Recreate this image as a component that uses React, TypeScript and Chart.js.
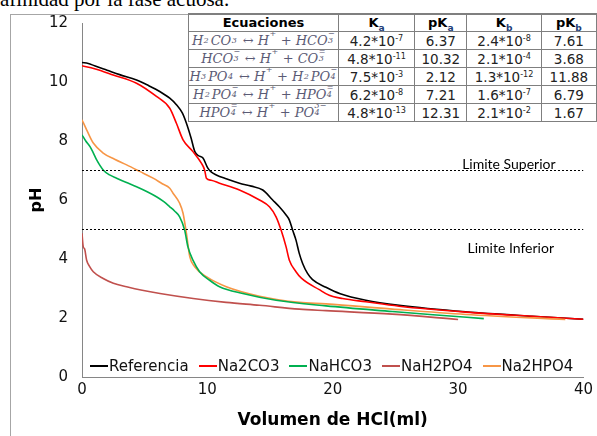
import React, { useEffect, useRef } from "react";
import { Chart, registerables } from "chart.js";
Chart.register(...registerables);

// ---------- DATA ----------
const headerText = "afinidad por la fase acuosa.";
const xTitle = "Volumen de HCl(ml)";
const yTitle = "pH";
const xMin = 0, xMax = 40, xStep = 10;
const yMin = 0, yMax = 12, yStep = 2;

const seriesNames = ["Referencia", "Na2CO3", "NaHCO3", "NaH2PO4", "Na2HPO4"];
const seriesColors = ["#000000", "#FF0000", "#00B050", "#C0504D", "#F79646"];

const volReferencia = [0, 0.5, 1, 2, 3, 4.35, 5.3, 6.2, 7.0, 7.53, 8.0, 8.33, 8.7, 9.0, 9.3, 9.65, 10.04, 10.3, 10.71, 11.5, 12.56, 13.5, 14.42, 15.21, 15.74, 16.28, 16.54, 16.8, 17.07, 17.33, 17.6, 17.99, 18.39, 19.46, 20.6, 22.64, 25.29, 30.6, 35.9, 40];
const phReferencia = [10.66, 10.63, 10.55, 10.4, 10.25, 10.07, 9.88, 9.68, 9.45, 9.23, 8.95, 8.6, 8.1, 7.64, 7.5, 7.42, 7.08, 6.95, 6.85, 6.72, 6.57, 6.47, 6.34, 6.0, 5.77, 5.49, 5.32, 4.98, 4.64, 4.19, 3.85, 3.51, 3.3, 3.04, 2.82, 2.6, 2.43, 2.21, 2.06, 1.96];

const volNa2CO3 = [0, 1, 2.49, 4.35, 5.94, 7.0, 7.53, 8.06, 8.85, 9.52, 9.78, 9.92, 10.3, 10.97, 12.56, 14.16, 14.95, 15.48, 15.88, 16.28, 16.54, 17.07, 17.5, 18.93, 19.72, 20.78, 22.64, 25.29, 30.6, 35.9, 40];
const phNa2CO3 = [10.55, 10.45, 10.24, 9.96, 9.51, 9.11, 8.6, 8.04, 7.64, 7.25, 7.02, 6.74, 6.67, 6.57, 6.34, 6.0, 5.77, 5.43, 4.98, 4.41, 3.96, 3.57, 3.35, 2.96, 2.77, 2.66, 2.55, 2.4, 2.2, 2.06, 1.96];

const volNaHCO3 = [0, 0.3, 0.64, 0.9, 1.17, 1.69, 2.2, 2.76, 3.5, 4.35, 5.2, 5.94, 6.5, 7.0, 7.4, 7.79, 8.19, 8.45, 8.85, 9.38, 10.18, 10.97, 12.83, 15.48, 19.46, 24.75, 28, 32.05];
const phNaHCO3 = [8.21, 8.0, 7.81, 7.6, 7.36, 7.02, 6.85, 6.74, 6.6, 6.45, 6.28, 6.11, 5.95, 5.77, 5.62, 5.43, 4.98, 4.41, 3.96, 3.57, 3.28, 3.06, 2.83, 2.6, 2.41, 2.22, 2.11, 1.98];

const volNaH2PO4 = [0, 0.1, 0.2, 0.37, 0.6, 0.9, 1.69, 2.5, 3.56, 4.8, 6.22, 8.87, 11.5, 14.16, 17.34, 19.46, 24.75, 30.0];
const phNaH2PO4 = [4.87, 4.41, 4.35, 3.96, 3.75, 3.57, 3.34, 3.18, 3.06, 2.94, 2.83, 2.66, 2.53, 2.43, 2.3, 2.25, 2.13, 1.95];

const volNa2HPO4 = [0, 0.37, 0.9, 1.69, 2.6, 3.56, 4.6, 5.67, 6.4, 7.0, 7.26, 7.79, 8.06, 8.33, 8.6, 8.99, 9.92, 11.51, 14.16, 17.34, 19.46, 24.75, 30.6, 38.55];
const phNa2HPO4 = [8.72, 8.38, 7.93, 7.59, 7.38, 7.19, 6.97, 6.74, 6.55, 6.4, 6.23, 5.89, 5.55, 4.87, 4.07, 3.74, 3.4, 3.06, 2.74, 2.53, 2.48, 2.3, 2.12, 1.95];

const limitValues = [7, 5];
const limitLabels = ["Limite Superior", "Limite Inferior"];

// table
const tableHeaders = ["Ecuaciones", "K|a", "pK|a", "K|b", "pK|b"];
const equations = [
  "H_{2}CO_{3} ↔ H^{+} + HCO_{3}^{−}",
  "HCO_{3}^{−} ↔ H^{+} + CO_{3}^{=}",
  "H_{3}PO_{4} ↔ H^{+} + H_{2}PO_{4}^{−}",
  "H_{2}PO_{4}^{−} ↔ H^{+} + HPO_{4}^{=}",
  "HPO_{4}^{=} ↔ H^{+} + PO_{4}^{3−}",
];
const kaMant = ["4.2", "4.8", "7.5", "6.2", "4.8"];
const kaExp = ["-7", "-11", "-3", "-8", "-13"];
const pKa = ["6.37", "10.32", "2.12", "7.21", "12.31"];
const kbMant = ["2.4", "2.1", "1.3", "1.6", "2.1"];
const kbExp = ["-8", "-4", "-12", "-7", "-2"];
const pKb = ["7.61", "3.68", "11.88", "6.79", "1.67"];

// ---------- HELPERS ----------
function zip(xs: number[], ys: number[]) {
  return xs.map((x, i) => ({ x, y: ys[i] }));
}

function Stack({ sub, sup }: { sub?: string; sup?: string }) {
  const len = Math.max(sub ? sub.length : 0, sup ? sup.length : 0);
  return (
    <span style={{ position: "relative", display: "inline-block", width: `${len * 0.45 + 0.12}em`, height: "1em", verticalAlign: "baseline" }}>
      {sup ? (
        <span style={{ position: "absolute", left: "0.05em", top: "-0.3em", fontSize: "0.62em", lineHeight: 1 }}>{sup}</span>
      ) : null}
      {sub ? (
        <span style={{ position: "absolute", left: "0.05em", top: "0.6em", fontSize: "0.62em", lineHeight: 1 }}>{sub}</span>
      ) : null}
    </span>
  );
}

function Equation({ text }: { text: string }) {
  const parts: React.ReactNode[] = [];
  const re = /_\{([^}]*)\}(?:\^\{([^}]*)\})?|\^\{([^}]*)\}|([^_^]+)/g;
  let m: RegExpExecArray | null;
  let k = 0;
  while ((m = re.exec(text)) !== null) {
    if (m[4] !== undefined) parts.push(<span key={k++}>{m[4]}</span>);
    else if (m[1] !== undefined) parts.push(<Stack key={k++} sub={m[1]} sup={m[2]} />);
    else parts.push(<Stack key={k++} sup={m[3]} />);
  }
  return <span style={{ whiteSpace: "pre" }}>{parts}</span>;
}

function Header({ text }: { text: string }) {
  const [main, sub] = text.split("|");
  return (
    <span>
      {main}
      {sub ? <sub style={{ fontSize: "0.7em", color: "#1f3f7a", lineHeight: 0 }}>{sub}</sub> : null}
    </span>
  );
}

const limitLabelPlugin = {
  id: "limitLabels",
  afterDatasetsDraw(chart: any) {
    const { ctx, scales } = chart;
    const x = scales.x, y = scales.y;
    ctx.save();
    ctx.font = "14px Lato";
    ctx.fillStyle = "#000";
    ctx.textAlign = "center";
    ctx.textBaseline = "middle";
    ctx.fillText(limitLabels[0], x.getPixelForValue(34.05), y.getPixelForValue(limitValues[0]) - 6.5);
    ctx.fillText(limitLabels[1], x.getPixelForValue(34.2), y.getPixelForValue(limitValues[1]) + 18.7);
    ctx.restore();
  },
};

export default function App() {
  const canvasRef = useRef<HTMLCanvasElement | null>(null);

  useEffect(() => {
    const canvas = canvasRef.current;
    if (!canvas) return;
    const seriesData = [
      zip(volReferencia, phReferencia),
      zip(volNa2CO3, phNa2CO3),
      zip(volNaHCO3, phNaHCO3),
      zip(volNaH2PO4, phNaH2PO4),
      zip(volNa2HPO4, phNa2HPO4),
    ];
    const drawOrder = [3, 2, 4, 1, 0];
    const datasets: any[] = limitValues.map((v) => ({
      label: "limit",
      data: [{ x: xMin, y: v }, { x: xMax, y: v }],
      borderColor: "#000",
      borderWidth: 1,
      borderDash: [2, 2],
      pointRadius: 0,
      fill: false,
    }));
    drawOrder.forEach((i) => {
      datasets.push({
        label: seriesNames[i],
        data: seriesData[i],
        borderColor: seriesColors[i],
        backgroundColor: seriesColors[i],
        borderWidth: 1.6,
        pointRadius: 0,
        fill: false,
        cubicInterpolationMode: "monotone",
      });
    });

    const chart = new Chart(canvas, {
      type: "line",
      data: { datasets },
      plugins: [limitLabelPlugin],
      options: {
        animation: false,
        responsive: false,
        devicePixelRatio: 1,
        layout: { padding: { left: 0, top: 23, right: 12, bottom: 0 } },
        plugins: { legend: { display: false }, tooltip: { enabled: false } },
        scales: {
          x: {
            type: "linear",
            min: xMin,
            max: xMax,
            ticks: { stepSize: xStep, padding: 4, color: "#111", font: { family: "DejaVu Sans", size: 15 } },
            grid: { display: false, drawTicks: false },
            border: { display: true, color: "#868686", width: 1 },
            title: { display: true, text: xTitle, color: "#000", font: { family: "DejaVu Sans", size: 17, weight: "bold" }, padding: { top: 0, bottom: 5 } },
            afterFit: (s: any) => { s.height = 59; },
          },
          y: {
            type: "linear",
            min: yMin,
            max: yMax,
            ticks: { stepSize: yStep, padding: 14, color: "#111", font: { family: "DejaVu Sans", size: 15 } },
            grid: { display: false, drawTicks: false },
            border: { display: true, color: "#868686", width: 1 },
            title: { display: true, text: yTitle, color: "#000", font: { family: "DejaVu Sans", size: 16, weight: "bold" }, padding: { top: 27, bottom: 0 } },
            afterFit: (s: any) => { s.width = 82; },
          },
        },
      } as any,
    });
    return () => chart.destroy();
  }, []);

  const cell: React.CSSProperties = {
    border: "1px solid #7f7f7f",
    padding: 0,
    height: 16,
    lineHeight: "16px",
    textAlign: "center",
    whiteSpace: "nowrap",
    overflow: "hidden",
  };
  const valFont: React.CSSProperties = { fontFamily: "DejaVu Sans", fontSize: 13.5, color: "#222" };

  return (
    <div style={{ position: "fixed", left: 0, top: 0, width: 597, height: 436, overflow: "hidden", background: "#fff" }}>
      <div style={{ position: "absolute", left: 0, top: -11, fontFamily: "Liberation Serif", fontSize: 21, lineHeight: "21px", color: "#000", whiteSpace: "nowrap" }}>
        {headerText}
      </div>
      <div style={{ position: "absolute", left: 10, top: 14, width: 620, height: 460, borderLeft: "1px solid #a6a6a6", borderTop: "1px solid #a6a6a6" }} />
      <canvas ref={canvasRef} width={597} height={436} style={{ position: "absolute", left: 0, top: 0, width: 597, height: 436 }} />
      <table style={{ position: "absolute", left: 188, top: 13, borderCollapse: "collapse", background: "#fff", tableLayout: "fixed", borderTop: "2px solid #7f7f7f" }}>
        <colgroup>
          <col style={{ width: 150 }} />
          <col style={{ width: 77 }} />
          <col style={{ width: 53 }} />
          <col style={{ width: 75 }} />
          <col style={{ width: 56 }} />
        </colgroup>
        <tbody>
          <tr>
            {tableHeaders.map((h, i) => (
              <td key={i} style={{ ...cell, borderTop: "2px solid #7f7f7f", fontFamily: "DejaVu Sans", fontWeight: "bold", fontSize: 13, color: "#000" }}>
                <Header text={h} />
              </td>
            ))}
          </tr>
          {equations.map((eq, r) => (
            <tr key={r}>
              <td style={{ ...cell, fontFamily: "DejaVu Serif", fontStyle: "italic", fontSize: 13, color: "#5b5b75" }}>
                <Equation text={eq} />
              </td>
              <td style={{ ...cell, ...valFont }}>
                {kaMant[r]}*10<sup style={{ fontSize: "0.6em", lineHeight: 0 }}>{kaExp[r]}</sup>
              </td>
              <td style={{ ...cell, ...valFont }}>{pKa[r]}</td>
              <td style={{ ...cell, ...valFont }}>
                {kbMant[r]}*10<sup style={{ fontSize: "0.6em", lineHeight: 0 }}>{kbExp[r]}</sup>
              </td>
              <td style={{ ...cell, ...valFont }}>{pKb[r]}</td>
            </tr>
          ))}
        </tbody>
      </table>
      <div style={{ position: "absolute", left: 90, top: 357, display: "flex", alignItems: "center", fontFamily: "DejaVu Sans", fontSize: 15, lineHeight: "18px", color: "#111", whiteSpace: "nowrap" }}>
        {seriesNames.map((n, i) => (
          <div key={i} style={{ display: "flex", alignItems: "center", marginRight: 10 }}>
            <span style={{ display: "inline-block", width: 18, height: 2, background: seriesColors[i], marginRight: 1 }} />
            <span>{n}</span>
          </div>
        ))}
      </div>
    </div>
  );
}
